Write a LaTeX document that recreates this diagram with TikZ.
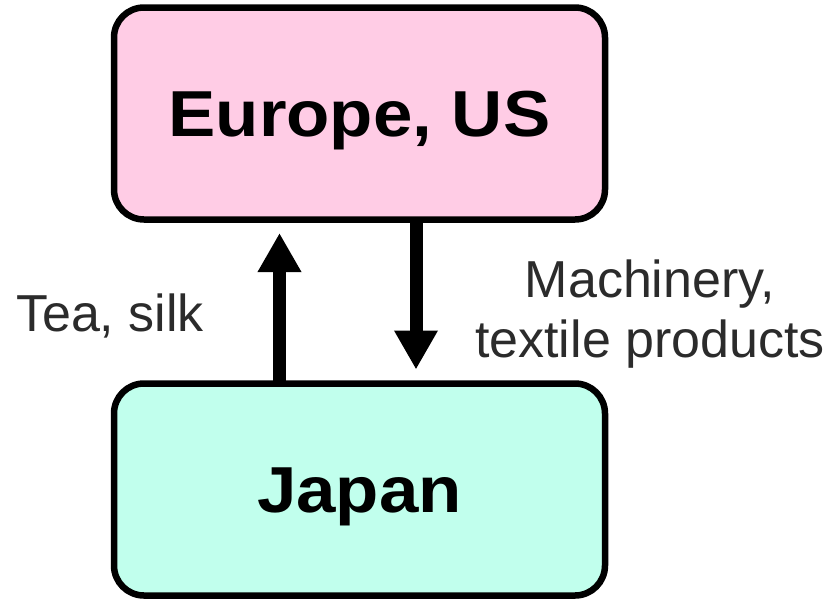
\documentclass[tikz,border=0pt]{standalone}
\usepackage{fontspec}
\setmainfont{Liberation Sans}
\newfontfamily\boxfont{Liberation Sans}[FakeStretch=1.09]
\usetikzlibrary{arrows.meta}
\definecolor{pinkfill}{RGB}{255,204,229}
\definecolor{mintfill}{RGB}{193,255,237}
\definecolor{labelgray}{RGB}{43,43,43}
\tikzset{
  region/.style={draw=black, line width=6.5pt, rounded corners=30pt, outer sep=0pt,
    minimum width=491pt, minimum height=212pt, inner sep=0pt,
    font=\boxfont\bfseries\fontsize{65}{70}\selectfont, text height=46pt, text depth=0pt},
  flow/.style={line width=13pt, -{Triangle[width=41pt,length=39pt]}},
  lbl/.style={text=labelgray, font=\fontsize{52}{60}\selectfont, inner sep=0pt, align=center}
}
\begin{document}
\begin{tikzpicture}[x=1pt,y=-1pt]
\useasboundingbox (0,0) rectangle (833,598);
\node[region, fill=pinkfill] (eu) at (359.5,113.5) {Europe, US};
\node[region, fill=mintfill] (jp) at (359.5,489.5) {Japan};
\draw[flow, shorten >=13.5pt] ([xshift=-80pt]jp.north) -- ([xshift=-80pt]eu.south);
\draw[flow, shorten >=14pt] ([xshift=56.5pt]eu.south) -- ([xshift=56.5pt]jp.north);
\node[lbl, anchor=base] (tea) at (110,331) {Tea, silk};
\node[lbl, anchor=base] (mach) at (650,357) {Machinery,\\textile products};
\end{tikzpicture}
\end{document}
